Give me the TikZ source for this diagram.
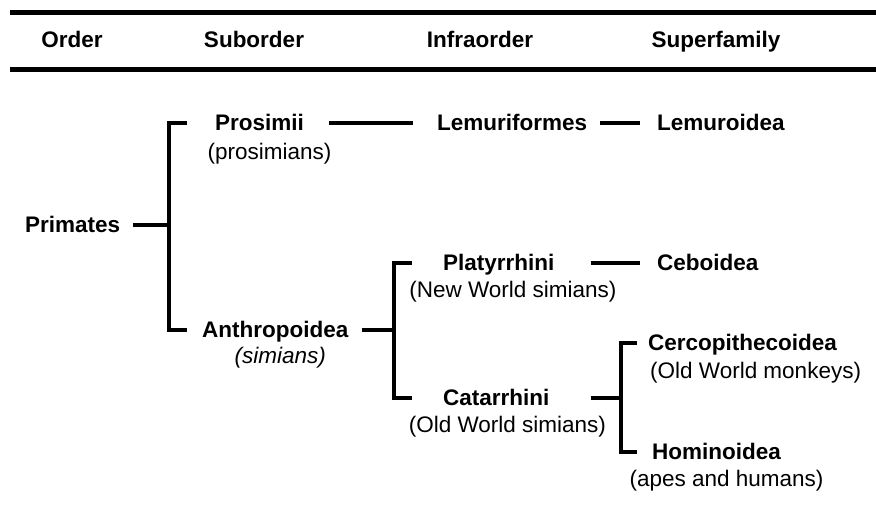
\documentclass[tikz,border=0pt]{standalone}
\usepackage{fontspec}
\setmainfont{Liberation Sans}
\usetikzlibrary{positioning}

\begin{document}
\begin{tikzpicture}[x=1pt,y=-1pt,
    font=\fontsize{22.5pt}{26pt}\selectfont,
    headnode/.style={font=\fontsize{22.5pt}{26pt}\selectfont\bfseries,inner sep=0pt,anchor=base},
    taxnode/.style={font=\fontsize{22.5pt}{26pt}\selectfont\bfseries,inner sep=0pt,text height=16pt,text depth=0pt,anchor=base west},
    cmnnode/.style={inner sep=0pt,anchor=base},
    lnk/.style={line width=4pt},
    rule/.style={line width=5pt}]
    \useasboundingbox (0,0) rectangle (876,526);

    % table head
    \draw[rule] (10,13) -- (876,13);
    \draw[rule] (10,70) -- (876,70);
    \node[headnode] (hord) at (72,48) {Order};
    \node[headnode] (hsub) at (254,48) {Suborder};
    \node[headnode] (hinf) at (480,48) {Infraorder};
    \node[headnode] (hsup) at (716,48) {Superfamily};

    % taxa
    \node[taxnode] (prim) at (25,233) {Primates};
    \node[taxnode] (pro) at (215,131) {Prosimii};
    \node[taxnode] (anth) at (202,338) {Anthropoidea};
    \node[taxnode] (lemf) at (437,131) {Lemuriformes};
    \node[taxnode] (lemd) at (657,131) {Lemuroidea};
    \node[taxnode] (platy) at (443,271) {Platyrrhini};
    \node[taxnode] (cebo) at (657,271) {Ceboidea};
    \node[taxnode] (cat) at (443,406) {Catarrhini};
    \node[taxnode] (cerc) at (648,351) {Cercopithecoidea};
    \node[taxnode] (homi) at (652,460) {Hominoidea};

    \node[cmnnode,below=29pt of pro.base,anchor=base,xshift=10pt] (prosub) {(prosimians)};
    \node[cmnnode,below=26pt of anth.base,anchor=base,xshift=5pt,font=\fontsize{22.5pt}{26pt}\selectfont\itshape] (anthsub) {(simians)};
    \node[cmnnode,below=27pt of platy.base,anchor=base,xshift=14pt] (platysub) {(New World simians)};
    \node[cmnnode,below=27pt of cat.base,anchor=base,xshift=11pt] (catsub) {(Old World simians)};
    \node[cmnnode,below=28pt of cerc.base,anchor=base,xshift=13pt] (cercsub) {(Old World monkeys)};
    \node[cmnnode,below=26pt of homi.base,anchor=base,xshift=10pt] (homisub) {(apes and humans)};

    % brackets
    \coordinate (b1) at ([xshift=49pt]prim.east);
    \coordinate (b2) at ([xshift=45pt]anth.east);
    \coordinate (b3) at ([xshift=71pt]cat.east);

    \draw[lnk,shorten <=13pt] (prim.east) -- (b1);
    \draw[lnk] ([xshift=-28pt]pro.west) -| (b1) |- ([xshift=-15pt]anth.west);
    \draw[lnk,shorten <=13pt] (anth.east) -- (b2);
    \draw[lnk] ([xshift=-31pt]platy.west) -| (b2) |- ([xshift=-31pt]cat.west);
    \draw[lnk,shorten <=41pt] (cat.east) -- (b3);
    \draw[lnk] ([xshift=-11pt]cerc.west) -| (b3) |- ([xshift=-15pt]homi.west);

    % single lines
    \draw[lnk,shorten <=25pt,shorten >=24pt] (pro.east) -- (lemf.west);
    \draw[lnk,shorten <=13pt,shorten >=17pt] (lemf.east) -- (lemd.west);
    \draw[lnk,shorten <=36pt,shorten >=17pt] (platy.east) -- (cebo.west);
\end{tikzpicture}
\end{document}
